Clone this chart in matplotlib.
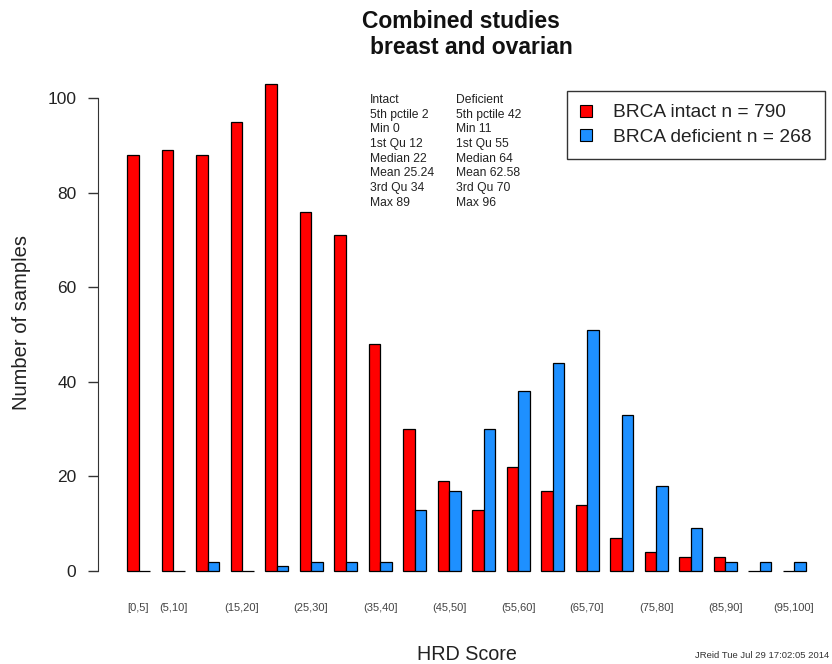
import matplotlib.pyplot as plt
from matplotlib.patches import Patch

# HRD score bins and sample counts
bins = ['[0,5]', '(5,10]', '(10,15]', '(15,20]', '(20,25]', '(25,30]', '(30,35]',
        '(35,40]', '(40,45]', '(45,50]', '(50,55]', '(55,60]', '(60,65]', '(65,70]',
        '(70,75]', '(75,80]', '(80,85]', '(85,90]', '(90,95]', '(95,100]']
intact = [88, 89, 88, 95, 103, 76, 71, 48, 30, 19, 13, 22, 17, 14, 7, 4, 3, 3, 0, 0]
deficient = [0, 0, 2, 0, 1, 2, 2, 2, 13, 17, 30, 38, 44, 51, 33, 18, 9, 2, 2, 2]
shown_labels = [0, 1, 3, 5, 7, 9, 11, 13, 15, 17, 19]

intact_stats = ['Intact', '5th pctile 2', 'Min 0', '1st Qu 12', 'Median 22',
                'Mean 25.24', '3rd Qu 34', 'Max 89']
deficient_stats = ['Deficient', '5th pctile 42', 'Min 11', '1st Qu 55', 'Median 64',
                   'Mean 62.58', '3rd Qu 70', 'Max 96']

RED = '#ff0000'
BLUE = '#1e90ff'
TXT = '#222222'

plt.rcParams['font.family'] = ['Liberation Sans', 'DejaVu Sans']

fig = plt.figure(figsize=(8.32, 6.64), dpi=100)
ax = fig.add_axes([98 / 832, 1 - 590.5 / 664, 734 / 832, 526.2 / 664])

# R-style beside barplot: each group = 2 bars + 1 space
red_x = [3 * i + 1 for i in range(len(bins))]
blue_x = [3 * i + 2 for i in range(len(bins))]
ax.bar(red_x, intact, width=1, align='edge', color=RED, edgecolor='black', linewidth=0.9)
ax.bar(blue_x, deficient, width=1, align='edge', color=BLUE, edgecolor='black', linewidth=0.9)

ax.set_xlim(1 - 29 / 11.5, 1 + 705 / 11.5)
ax.set_ylim(-4.12, 107.12)

for s in ['top', 'right', 'bottom']:
    ax.spines[s].set_visible(False)
ax.spines['left'].set_bounds(0, 100)
ax.spines['left'].set_color('#333333')
ax.set_yticks(range(0, 101, 20))
ax.tick_params(axis='y', length=7, width=1, color='#333333', labelsize=12.5,
               labelcolor=TXT, pad=8.5)

ax.set_xticks([3 * i + 2 for i in shown_labels])
ax.set_xticklabels([bins[i] for i in shown_labels], fontsize=8, color='#444444')
ax.tick_params(axis='x', length=0, pad=9)

fig.text(22 / 832, 1 - 322 / 664, 'Number of samples', rotation=90, ha='center',
         va='center', fontsize=14.5, color=TXT)

fig.text(461 / 832, 1 - 22 / 664, 'Combined studies', ha='center', va='center',
         fontsize=16.5, fontweight='bold', color='#111111')
fig.text(471 / 832, 1 - 48 / 664, 'breast and ovarian', ha='center', va='center',
         fontsize=16.5, fontweight='bold', color='#111111')
fig.text(467 / 832, 1 - 655 / 664, 'HRD Score', ha='center', va='center',
         fontsize=14.2, color=TXT)
fig.text(695 / 832, 1 - 656 / 664, 'JReid Tue Jul 29 17:02:05 2014', ha='left',
         va='center', fontsize=6.8, color='#333333')

for k, (a, b) in enumerate(zip(intact_stats, deficient_stats)):
    y = 1 - (100 + 14.7 * k) / 664
    fig.text(370 / 832, y, a, ha='left', va='center', fontsize=8.7, color=TXT)
    fig.text(456 / 832, y, b, ha='left', va='center', fontsize=8.7, color=TXT)

handles = [Patch(facecolor=RED, edgecolor='black', linewidth=0.8),
           Patch(facecolor=BLUE, edgecolor='black', linewidth=0.8)]
leg = fig.legend(handles, ['BRCA intact n = 790', 'BRCA deficient n = 268'],
                 loc='upper left', bbox_to_anchor=(567 / 832, 1 - 91 / 664),
                 borderaxespad=0, fontsize=13.8, frameon=True, fancybox=False,
                 handlelength=0.6, handleheight=0.6, handletextpad=1.1,
                 borderpad=0.7, labelspacing=0.4)
leg.get_frame().set_edgecolor('black')
leg.get_frame().set_linewidth(1)
for t in leg.get_texts():
    t.set_color(TXT)

fig.savefig('out.png', dpi=100)
